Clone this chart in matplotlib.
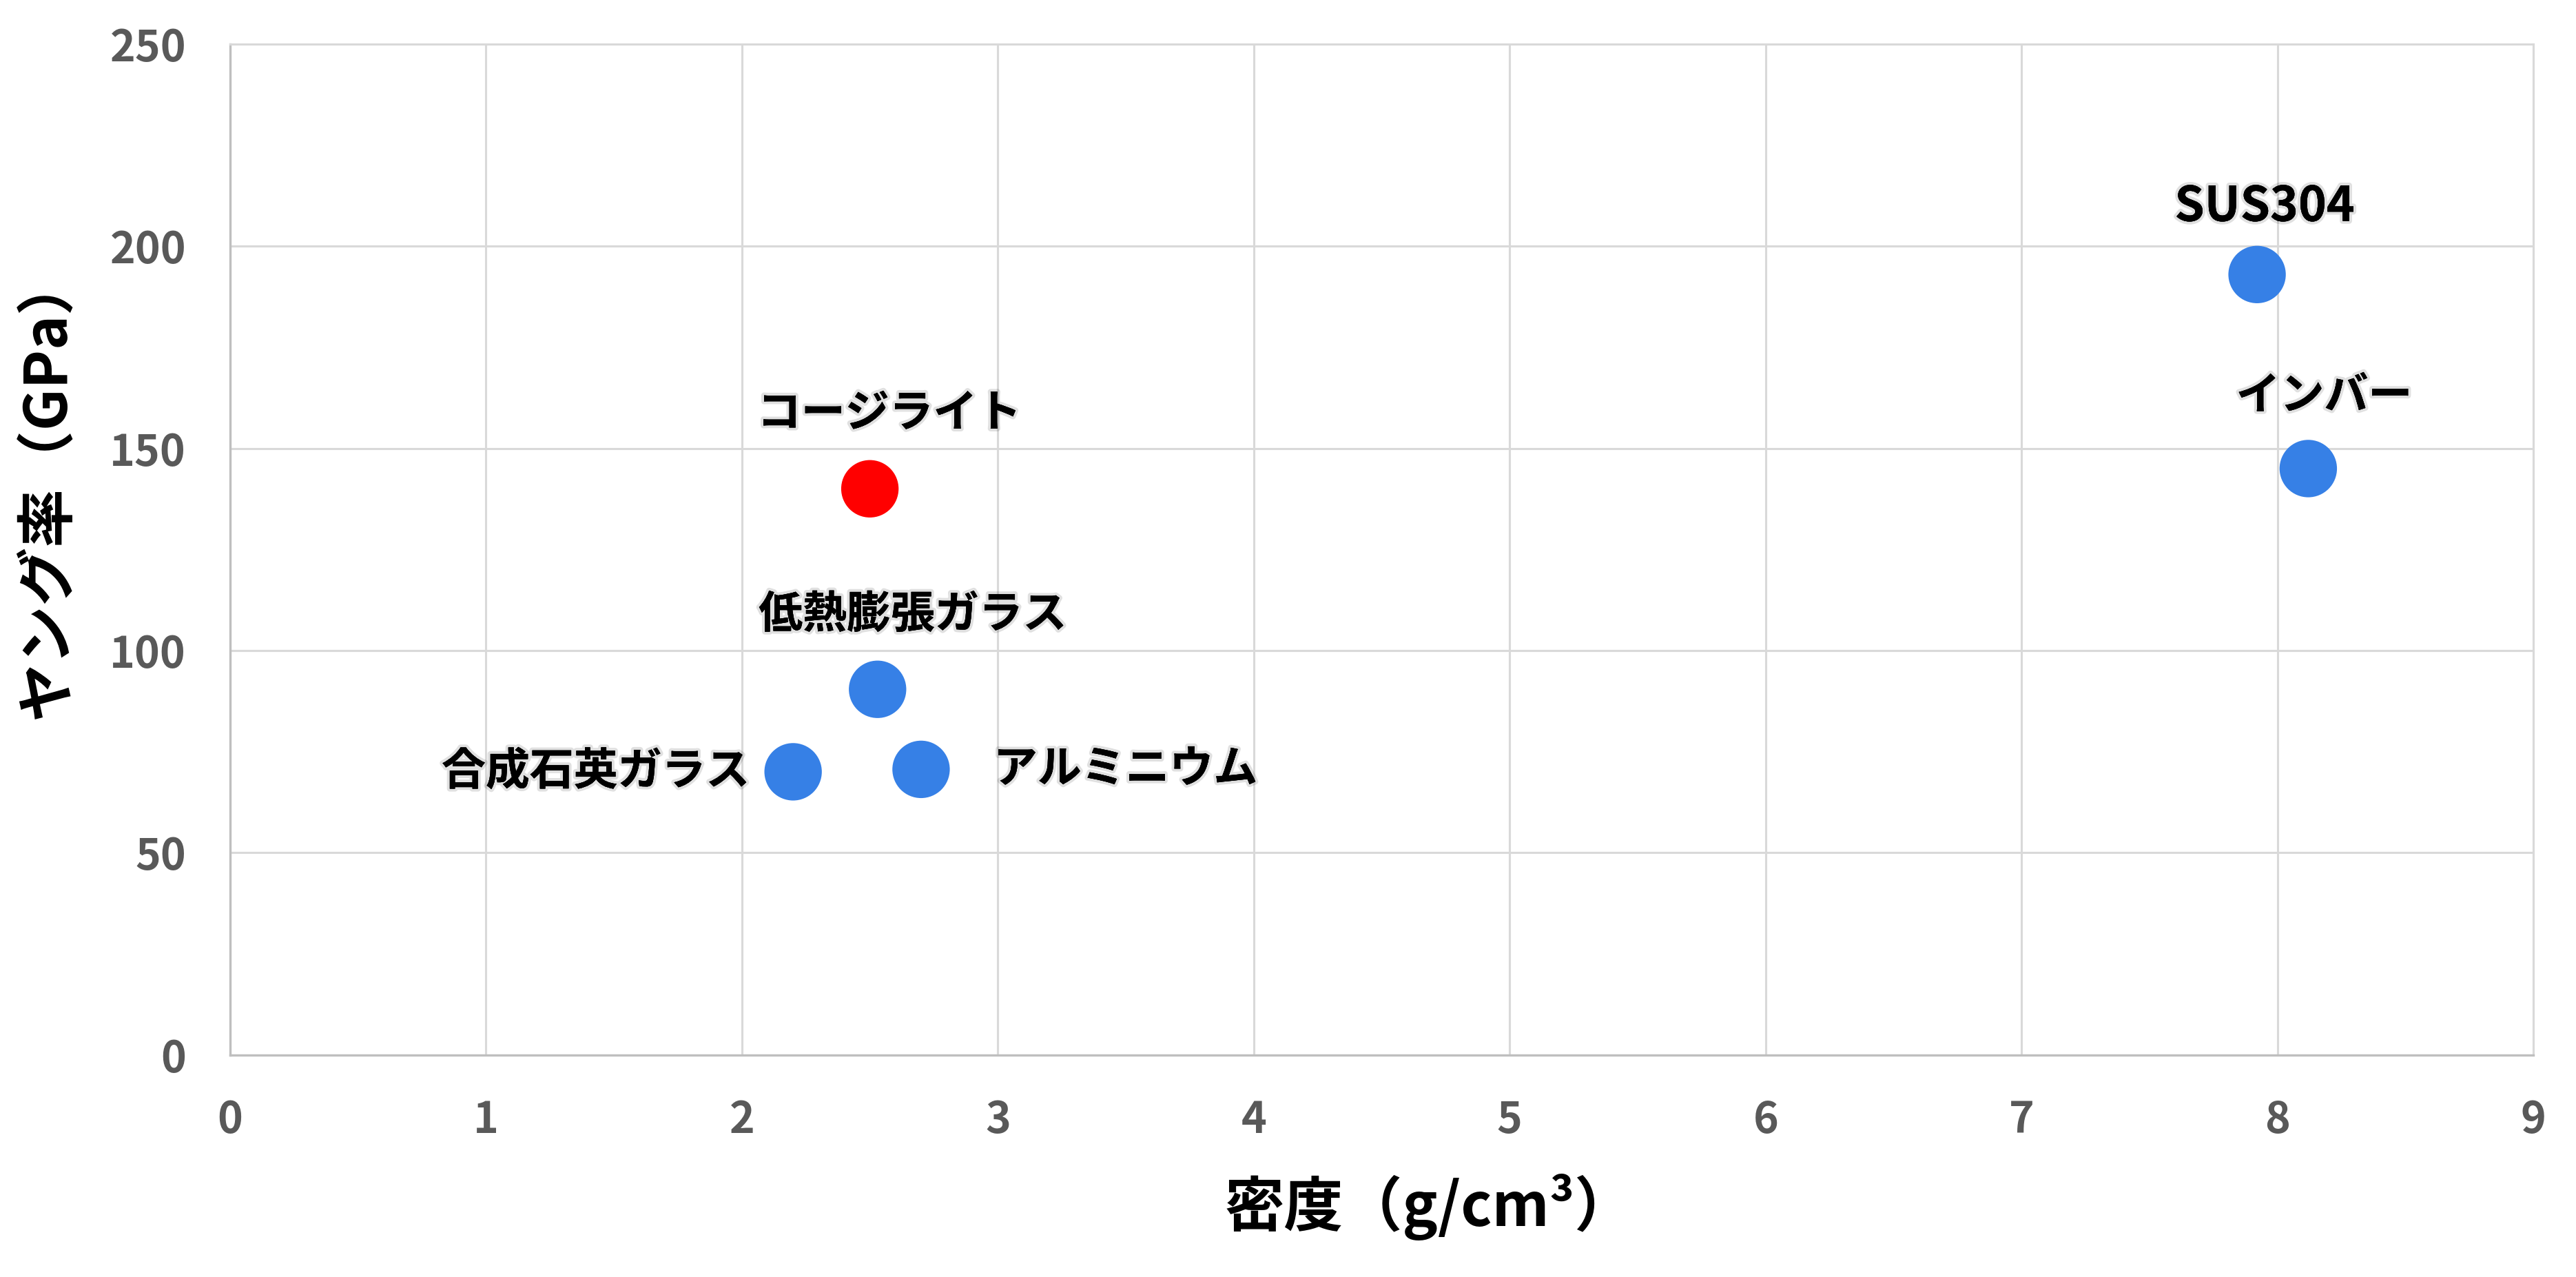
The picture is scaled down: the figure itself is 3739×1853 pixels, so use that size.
import matplotlib
matplotlib.use("Agg")
import matplotlib.pyplot as plt
import matplotlib.patheffects as pe

plt.rcParams['font.family'] = ['Noto Sans CJK JP', 'DejaVu Sans']

# data
names = ["コージライト", "低熱膨張ガラス", "合成石英ガラス", "アルミニウム", "SUS304", "インバー"]
density = [2.50, 2.53, 2.20, 2.70, 7.92, 8.12]
young = [140, 90.4, 70.0, 70.6, 193, 145]
colors = ["#FF0000", "#3680E6", "#3680E6", "#3680E6", "#3680E6", "#3680E6"]

# label placement (pixel offsets from the point, alignment, font size)
label_pos = [
    ((28, 109), "center", 46),
    ((51, 108), "center", 46),
    ((-63, 0), "right", 46),
    ((105, 0), "left", 46),
    ((11, 98), "center", 50),
    ((23, 105), "center", 46),
]

x_ticks = [0, 1, 2, 3, 4, 5, 6, 7, 8, 9]
y_ticks = [0, 50, 100, 150, 200, 250]

fig = plt.figure(figsize=(37.39, 18.53), dpi=100)
ax = fig.add_axes([0.0893, 0.174, 0.8942, 0.7915])

ax.scatter(density, young, s=3600, c=colors, zorder=3, linewidths=0)

glow = [pe.withStroke(linewidth=6, foreground=(0, 0, 0, 0.12)), pe.Normal()]
for name, x, y, (off, ha, fs) in zip(names, density, young, label_pos):
    ax.annotate(name, (x, y), xytext=off, textcoords="offset pixels",
                ha=ha, va="center", fontsize=fs, fontweight="bold",
                color="black", path_effects=glow, zorder=4)

ax.set_xlim(0, 9)
ax.set_ylim(0, 250)
ax.set_xticks(x_ticks)
ax.set_yticks(y_ticks)
ax.grid(True, color="#d9d9d9", linewidth=2.2, zorder=0)
ax.set_axisbelow(True)

for side in ["top", "right"]:
    ax.spines[side].set_color("#d9d9d9")
    ax.spines[side].set_linewidth(2.2)
for side in ["left", "bottom"]:
    ax.spines[side].set_color("#bfbfbf")
    ax.spines[side].set_linewidth(2.4)

ax.tick_params(axis="both", length=0, labelsize=45, labelcolor="#595959")
ax.tick_params(axis="y", pad=46)
ax.tick_params(axis="x", pad=46)
for lab in ax.get_xticklabels() + ax.get_yticklabels():
    lab.set_fontweight("bold")

fig.text(2075 / 3739, 1 - 1752 / 1853, "密度（g/cm³）", ha="center", va="center",
         fontsize=62, fontweight="bold")
fig.text(68 / 3739, 1 - 705 / 1853, "ヤング率（GPa）", ha="center", va="center",
         rotation=90, fontsize=61, fontweight="bold")

fig.savefig("out.png", dpi=100, facecolor="white")
